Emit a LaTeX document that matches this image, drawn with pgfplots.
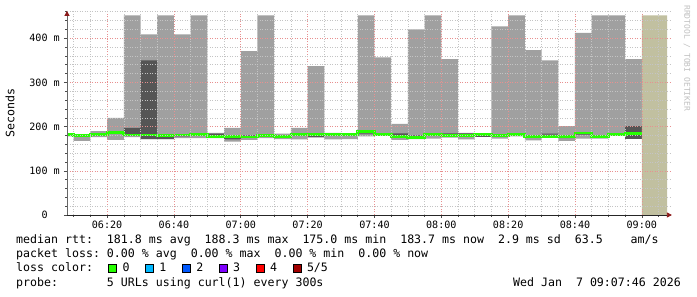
\documentclass[border=0pt]{standalone}
\usepackage{fontspec}
\setmonofont{DejaVu Sans Mono}
\usepackage{pgfplots}
\pgfplotsset{compat=1.18}
\usepackage{pgfplotstable}
\usepgfplotslibrary{fillbetween}
\usetikzlibrary{arrows.meta}
\definecolor{smokelight}{HTML}{A0A0A0}
\definecolor{smokedark}{HTML}{555555}
\definecolor{medgreen}{HTML}{26FF00}
\definecolor{futurebeige}{HTML}{C1C0A0}
\definecolor{arrowred}{HTML}{8B1A1A}
\definecolor{mgrid}{HTML}{E89090}
\definecolor{mingrid}{HTML}{C4C4C4}
\definecolor{lossone}{HTML}{00B8FF}
\definecolor{losstwo}{HTML}{0059FF}
\definecolor{lossthree}{HTML}{7E00FF}
\definecolor{lossfour}{HTML}{FF0000}
\definecolor{lossfive}{HTML}{A10000}
\definecolor{wmark}{HTML}{C0C0C0}
\newcommand\axf{\ttfamily\fontsize{10.1}{12}\selectfont}
\newcommand\lgf{\ttfamily\fontsize{11.6}{14}\selectfont}

% x = minutes after 06:00; each row holds until the next x
\pgfplotstableread{
x     lo    hi   dlo   dhi   med
8     178   185  181   181   182
10    168   183  180   180   180
15    176   190  182   185   183
20    170   220  185   185   186
25    176   452  183   197   181
30    172   409  172   350   181
35    172   452  172   177   180.5
40    174   409  178   180   181
45    174   452  180   180   183
50    174   186  175   184   177
55    166   197  171   174   178
60    170   371  178   180   176.5
65    174   452  178   178   180
70    172   184  176   178   178
75    171   197  180   180   182
80    175   337  177   181   183
85    171   186  180   180   182
90    172   185  180   180   182
95    178   452  183   185   188.3
100   181   357  182   182   183
105   170   206  181   185   178
110   172   420  177   180   175.5
115   173   452  181   182   182
120   175   353  183   185   180
125   171   186  183   185   180.5
130   177   184  177   181   182.5
135   173   427  179   179   180
140   178   452  180   180   183
145   169   373  177   179   178
150   176.5 350  182   184   178.5
155   168   201  174   178   177
160   173   412  182   184   185.5
165   173   452  180   181   178
170   180   452  182   182   182.5
175   172.5 353  172.5 201   183.7
180   172.5 353  172.5 201   183.7
}\smoke

\begin{document}
\begin{tikzpicture}[x=1pt,y=1pt]
\begin{axis}[
  at={(67pt,82pt)}, anchor=south west,
  scale only axis, width=604.9pt, height=204.1pt,
  xmin=8, xmax=189, ymin=0, ymax=462,
  axis lines=left, axis on top,
  x axis line style={black!85, line width=0.8pt, -{Triangle[length=5pt,width=5pt,color=arrowred]}},
  y axis line style={black!60, line width=0.8pt, -{Triangle[length=5pt,width=5pt,color=arrowred]}},
  xtick={20,40,...,180},
  xticklabels={06:20,06:40,07:00,07:20,07:40,08:00,08:20,08:40,09:00},
  minor xtick={10,15,25,30,35,45,50,55,65,70,75,85,90,95,105,110,115,125,130,135,145,150,155,165,170,175,185},
  ytick={0,100,200,300,400},
  yticklabels={0\hphantom{00},100 m,200 m,300 m,400 m},
  minor ytick={20,40,60,80,120,140,160,180,220,240,260,280,320,340,360,380,420,440,460},
  grid=both,
  major grid style={mgrid, line width=0.6pt, dash pattern=on 1pt off 1.5pt},
  minor grid style={mingrid, line width=0.6pt, dash pattern=on 1pt off 1.5pt},
  tick align=outside, major tick length=3pt, minor tick length=2pt,
  tick style={black!70, line width=0.6pt},
  xticklabel style={font=\axf, anchor=base, yshift=-11pt},
  yticklabel style={font=\axf, anchor=east, inner sep=0pt, xshift=-4pt},
  clip=false,
]
\addplot[name path=H, draw=none, const plot, forget plot] table[x=x,y=hi]{\smoke};
\addplot[name path=L, draw=none, const plot, forget plot] table[x=x,y=lo]{\smoke};
\addplot[fill=smokelight, draw=none, forget plot] fill between[of=H and L];
\addplot[name path=DH, draw=none, const plot, forget plot] table[x=x,y=dhi]{\smoke};
\addplot[name path=DL, draw=none, const plot, forget plot] table[x=x,y=dlo]{\smoke};
\addplot[fill=smokedark, draw=none, forget plot] fill between[of=DH and DL];
\addplot[medgreen, line width=2.8pt, const plot, forget plot] table[x=x,y=med]{\smoke};
\addplot[fill=futurebeige, draw=none, forget plot] coordinates {(180,0) (187.55,0) (187.55,452) (180,452)} \closedcycle;
\end{axis}

\node[rotate=90, font=\lgf, inner sep=0pt] at (10pt,184pt) {Seconds};
\node[rotate=-90, anchor=west, inner sep=0pt, text=wmark, font=\ttfamily\fontsize{8}{9}\selectfont] at (687pt,292pt) {RRDTOOL / TOBI OETIKER};

\node[anchor=base west, inner sep=0pt] at (16pt,53pt) {\lgf median~rtt:~~181.8~ms~avg~~188.3~ms~max~~175.0~ms~min~~183.7~ms~now~~2.9~ms~sd~~63.5~~~~am/s};
\node[anchor=base west, inner sep=0pt] at (16pt,39pt) {\lgf packet~loss:~0.00~\%~avg~~0.00~\%~max~~0.00~\%~min~~0.00~\%~now};
\node[anchor=base west, inner sep=0pt] at (16pt,25pt) {\lgf loss~color:};
\node[anchor=base west, inner sep=0pt] at (16pt,10pt) {\lgf probe:~~~~~~~5~URLs~using~curl(1)~every~300s};
\node[anchor=base east, inner sep=0pt] at (681pt,10pt) {\lgf Wed~Jan~~7~09:07:46~2026};

\filldraw[fill=medgreen, draw=black, line width=0.6pt] (108.3pt,24.5pt) rectangle ++(8pt,8pt);
\filldraw[fill=lossone, draw=black, line width=0.6pt] (145.2pt,24.5pt) rectangle ++(8pt,8pt);
\filldraw[fill=losstwo, draw=black, line width=0.6pt] (182.1pt,24.5pt) rectangle ++(8pt,8pt);
\filldraw[fill=lossthree, draw=black, line width=0.6pt] (219pt,24.5pt) rectangle ++(8pt,8pt);
\filldraw[fill=lossfour, draw=black, line width=0.6pt] (255.9pt,24.5pt) rectangle ++(8pt,8pt);
\filldraw[fill=lossfive, draw=black, line width=0.6pt] (292.8pt,24.5pt) rectangle ++(8pt,8pt);
\node[anchor=base west, inner sep=0pt] at (122.3pt,25pt) {\lgf 0};
\node[anchor=base west, inner sep=0pt] at (159.2pt,25pt) {\lgf 1};
\node[anchor=base west, inner sep=0pt] at (196.1pt,25pt) {\lgf 2};
\node[anchor=base west, inner sep=0pt] at (233pt,25pt) {\lgf 3};
\node[anchor=base west, inner sep=0pt] at (269.9pt,25pt) {\lgf 4};
\node[anchor=base west, inner sep=0pt] at (306.8pt,25pt) {\lgf 5/5};
\pgfresetboundingbox
\path[use as bounding box] (0pt,0pt) rectangle (697pt,297pt);
\end{tikzpicture}
\end{document}
